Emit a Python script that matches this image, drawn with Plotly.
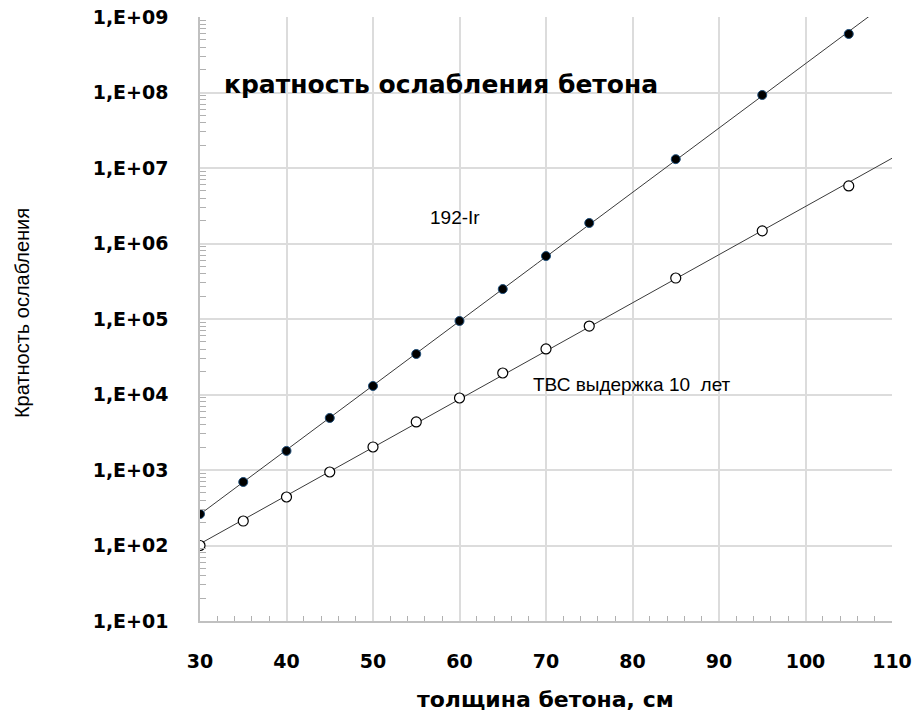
import numpy as np
import plotly.graph_objects as go

# Concrete thickness, cm
thickness = [30, 35, 40, 45, 50, 55, 60, 65, 70, 75, 85, 95, 105]

# Attenuation factor for the 192-Ir source
ir192 = [261, 694, 1790, 4890, 12970, 34400, 94200, 249000, 682000,
         1.87e6, 1.31e7, 9.27e7, 5.96e8]

# Attenuation factor for spent fuel assemblies (10 years cooling)
tvs = [100, 211, 439, 941, 2018, 4330, 8990, 19270, 40100,
       80700, 349000, 1.47e6, 5.78e6]

y_tickvals = [1e1, 1e2, 1e3, 1e4, 1e5, 1e6, 1e7, 1e8, 1e9]
y_ticktext = ["1,E+01", "1,E+02", "1,E+03", "1,E+04", "1,E+05",
              "1,E+06", "1,E+07", "1,E+08", "1,E+09"]

# minor ticks at 2..9 within each decade
y_minor = [m * 10.0 ** d for d in range(1, 9) for m in range(2, 10)]


def exp_trend(x, y, x_end):
    """Exponential trendline y = a*exp(b*x) fitted in log space."""
    b, a = np.polyfit(np.array(x, float), np.log(np.array(y, float)), 1)
    xs = np.linspace(min(x), x_end, 200)
    return xs, np.exp(a + b * xs)


fig = go.Figure()

for series in (ir192, tvs):
    xs, ys = exp_trend(thickness, series, 110)
    fig.add_trace(go.Scatter(x=xs, y=ys, mode="lines",
                             line=dict(color="#3a3a3a", width=1),
                             hoverinfo="skip", showlegend=False))

fig.add_trace(go.Scatter(x=thickness, y=ir192, mode="markers", name="192-Ir",
                         marker=dict(symbol="circle", size=9, color="black",
                                     line=dict(color="#1f4e79", width=1)),
                         showlegend=False))
fig.add_trace(go.Scatter(x=thickness, y=tvs, mode="markers",
                         name="ТВС выдержка 10 лет",
                         marker=dict(symbol="circle", size=10, color="white",
                                     line=dict(color="black", width=1.2)),
                         showlegend=False))

tick_font = dict(family="DejaVu Sans", size=19, color="black", weight="bold")

fig.update_xaxes(
    range=[30, 110], tickmode="linear", tick0=30, dtick=10,
    ticks="", ticklabelstandoff=22,
    showline=True, linecolor="#c0c0c0", linewidth=1.5, automargin=False,
    showgrid=True, gridcolor="#dcdcdc", gridwidth=1.5, zeroline=False,
    tickfont=tick_font,
    minor=dict(tickmode="linear", tick0=30, dtick=2, ticks="inside",
               ticklen=5, tickcolor="#b0b0b0", tickwidth=1, showgrid=False),
)
fig.update_yaxes(
    type="log", range=[1, 9], tickmode="array", tickvals=y_tickvals,
    ticktext=y_ticktext, ticks="", ticklabelstandoff=26, automargin=False,
    showline=True, linecolor="#c0c0c0", linewidth=1.5,
    showgrid=True, gridcolor="#dcdcdc", gridwidth=1.5, zeroline=False,
    tickfont=tick_font,
    minor=dict(tickmode="array", tickvals=y_minor, ticks="inside",
               ticklen=6, tickcolor="#b0b0b0", tickwidth=1, showgrid=False),
)

# axis titles
fig.add_annotation(x=-0.257, y=0.51, xref="paper", yref="paper",
                   text="Кратность ослабления", showarrow=False,
                   textangle=-90, xanchor="center", yanchor="middle",
                   font=dict(family="Liberation Sans", size=20, color="black"))
fig.add_annotation(x=0.4986, y=-0.13, xref="paper", yref="paper",
                   text="толщина бетона, см", showarrow=False,
                   xanchor="center", yanchor="middle",
                   font=dict(family="DejaVu Sans", size=22, color="black",
                             weight="bold"))

# chart heading and series labels
fig.add_annotation(x=0.0318, y=0.889, xref="paper", yref="paper",
                   text="кратность ослабления бетона", showarrow=False,
                   xanchor="left", yanchor="middle",
                   font=dict(family="DejaVu Sans", size=25, color="black",
                             weight="bold"))
fig.add_annotation(x=56.4, y=6.35, xref="x", yref="y",
                   text="192-Ir", showarrow=False, xanchor="left",
                   yanchor="middle",
                   font=dict(family="Liberation Sans", size=19, color="black"))
fig.add_annotation(x=68.3, y=4.126, xref="x", yref="y",
                   text="ТВС выдержка 10  лет", showarrow=False,
                   xanchor="left", yanchor="middle",
                   font=dict(family="Liberation Sans", size=19, color="black"))

fig.update_layout(
    width=918, height=713,
    margin=dict(l=200, r=26, t=17, b=92),
    paper_bgcolor="white", plot_bgcolor="white",
)

fig.write_html("out.html")
